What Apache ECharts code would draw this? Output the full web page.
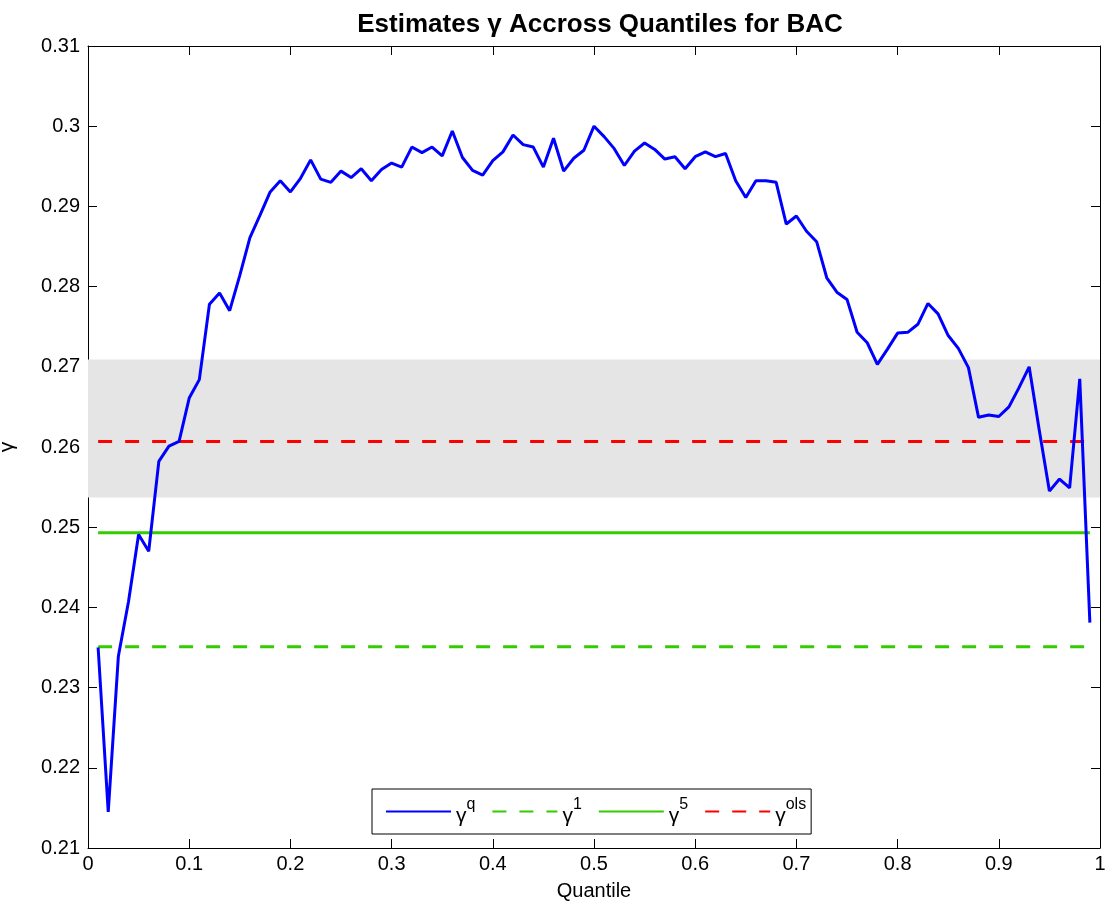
<!DOCTYPE html>
<html>
<head>
<meta charset="utf-8">
<script src="https://cdn.jsdelivr.net/npm/echarts@6/dist/echarts.min.js"></script>
<style>html,body{margin:0;padding:0;background:#fff}#c{width:1110px;height:909px}</style>
</head>
<body>
<div id="c"></div>
<script>
const quantiles = [0.01,0.02,0.03,0.04,0.05,0.06,0.07,0.08,0.09,0.10,
0.11,0.12,0.13,0.14,0.15,0.16,0.17,0.18,0.19,0.20,
0.21,0.22,0.23,0.24,0.25,0.26,0.27,0.28,0.29,0.30,
0.31,0.32,0.33,0.34,0.35,0.36,0.37,0.38,0.39,0.40,
0.41,0.42,0.43,0.44,0.45,0.46,0.47,0.48,0.49,0.50,
0.51,0.52,0.53,0.54,0.55,0.56,0.57,0.58,0.59,0.60,
0.61,0.62,0.63,0.64,0.65,0.66,0.67,0.68,0.69,0.70,
0.71,0.72,0.73,0.74,0.75,0.76,0.77,0.78,0.79,0.80,
0.81,0.82,0.83,0.84,0.85,0.86,0.87,0.88,0.89,0.90,
0.91,0.92,0.93,0.94,0.95,0.96,0.97,0.98,0.99];
const gammaQ = [0.2350,0.2145,0.2339,0.2407,0.2491,0.2470,0.2582,0.2601,0.2607,0.2661,
0.2684,0.2778,0.2792,0.2770,0.2814,0.2861,0.2889,0.2918,0.2932,0.2918,
0.2935,0.2958,0.2934,0.2930,0.2944,0.2936,0.2947,0.2932,0.2946,0.2954,
0.2949,0.2974,0.2967,0.2974,0.2963,0.2994,0.2961,0.2945,0.2939,0.2957,
0.2968,0.2989,0.2977,0.2974,0.2949,0.2985,0.2944,0.2960,0.2970,0.3000,
0.2987,0.2972,0.2951,0.2969,0.2979,0.2971,0.2959,0.2962,0.2947,0.2962,
0.2968,0.2962,0.2966,0.2932,0.2911,0.2932,0.2932,0.2930,0.2878,0.2888,
0.2869,0.2856,0.2811,0.2793,0.2784,0.2743,0.2730,0.2703,0.2722,0.2742,
0.2743,0.2753,0.2779,0.2766,0.2739,0.2723,0.2699,0.2637,0.2640,0.2638,
0.2650,0.2674,0.2700,0.2621,0.2545,0.2560,0.2549,0.2685,0.2381];
const gamma1 = 0.2351;
const gamma5 = 0.2493;
const gammaOls = 0.2607;
const bandLow = 0.2537;
const bandHigh = 0.2709;
const xRange = [0.01, 0.99];
const xTicks = {min: 0, max: 1, interval: 0.1};
const yTicks = {min: 0.21, max: 0.31, interval: 0.01};

const legendNames = {q: 'q', g1: '1', g5: '5', ols: 'ols'};

const font = 'Liberation Sans, Arial, Helvetica, sans-serif';
const chart = echarts.init(document.getElementById('c'));

function hline(v){ return [[xRange[0], v],[xRange[1], v]]; }

const axisCommon = {
  axisLine: {show: true, onZero: false, lineStyle: {color: '#000', width: 1}},
  axisTick: {show: true, inside: true, length: 9, lineStyle: {color: '#000', width: 1}},
  splitLine: {show: false}
};

chart.setOption({
  animation: false,
  backgroundColor: '#fff',
  title: {
    text: 'Estimates γ Accross Quantiles for BAC',
    left: 595, top: 7, textAlign: 'center',
    textStyle: {fontFamily: font, fontSize: 26, fontWeight: 'bold', color: '#000'}
  },
  grid: {left: 88, right: 10, top: 46, bottom: 61, containLabel: false, outerBoundsMode: 'none'},
  xAxis: [
    Object.assign({type: 'value', position: 'bottom', min: xTicks.min, max: xTicks.max, interval: xTicks.interval,
      name: 'Quantile', nameLocation: 'middle', nameGap: 33,
      nameTextStyle: {fontFamily: font, fontSize: 20, color: '#000'},
      axisLabel: {color: '#000', fontFamily: font, fontSize: 20, margin: 6,
        formatter: v => String(+v.toFixed(1))}}, axisCommon),
    Object.assign({type: 'value', position: 'top', min: xTicks.min, max: xTicks.max, interval: xTicks.interval,
      axisLabel: {show: false}}, axisCommon)
  ],
  yAxis: [
    Object.assign({type: 'value', position: 'left', min: yTicks.min, max: yTicks.max, interval: yTicks.interval,
      name: 'γ', nameLocation: 'middle', nameGap: 70, nameRotate: 90,
      nameTextStyle: {fontFamily: font, fontSize: 21, color: '#000'},
      axisLabel: {color: '#000', fontFamily: font, fontSize: 20, margin: 8,
        formatter: v => String(+v.toFixed(2))}}, axisCommon),
    Object.assign({type: 'value', position: 'right', min: yTicks.min, max: yTicks.max, interval: yTicks.interval,
      axisLabel: {show: false}}, axisCommon)
  ],
  legend: {
    left: 372, top: 789,
    orient: 'horizontal',
    padding: [7, 5, 7, 13],
    itemGap: 16,
    itemWidth: 65, itemHeight: 14,
    borderColor: '#000', borderWidth: 1, borderRadius: 0,
    backgroundColor: '#fff',
    itemStyle: {opacity: 0},
    data: ['q', 'g1', 'g5', 'ols'],
    formatter: n => '{b|γ}{s|' + legendNames[n] + '}',
    textStyle: {
      fontFamily: font, color: '#000',
      rich: {
        b: {fontFamily: font, fontSize: 21, color: '#000', lineHeight: 31, verticalAlign: 'bottom'},
        s: {fontFamily: font, fontSize: 16, color: '#000', lineHeight: 31, verticalAlign: 'top', padding: [1,0,0,0]}
      }
    }
  },
  series: [
    {
      name: 'band', type: 'line', data: [], silent: true, z: 1,
      markArea: {silent: true, itemStyle: {color: '#e5e5e5', opacity: 1},
        data: [[{xAxis: xTicks.min, yAxis: bandHigh}, {xAxis: xTicks.max, yAxis: bandLow}]]}
    },
    {
      name: 'g1', type: 'line', data: hline(gamma1), symbol: 'none', z: 3,
      lineStyle: {color: '#33cc00', width: 3, type: [14, 13]}, itemStyle: {color: '#33cc00'}
    },
    {
      name: 'g5', type: 'line', data: hline(gamma5), symbol: 'none', z: 3,
      lineStyle: {color: '#33cc00', width: 3, type: 'solid'}, itemStyle: {color: '#33cc00'}
    },
    {
      name: 'ols', type: 'line', data: hline(gammaOls), symbol: 'none', z: 3,
      lineStyle: {color: '#ff0000', width: 3, type: [14, 13]}, itemStyle: {color: '#ff0000'}
    },
    {
      name: 'q', type: 'line', data: quantiles.map((q, i) => [q, gammaQ[i]]), symbol: 'none', z: 4,
      lineStyle: {color: '#0000ff', width: 3}, itemStyle: {color: '#0000ff'}
    }
  ]
});
</script>
</body>
</html>
